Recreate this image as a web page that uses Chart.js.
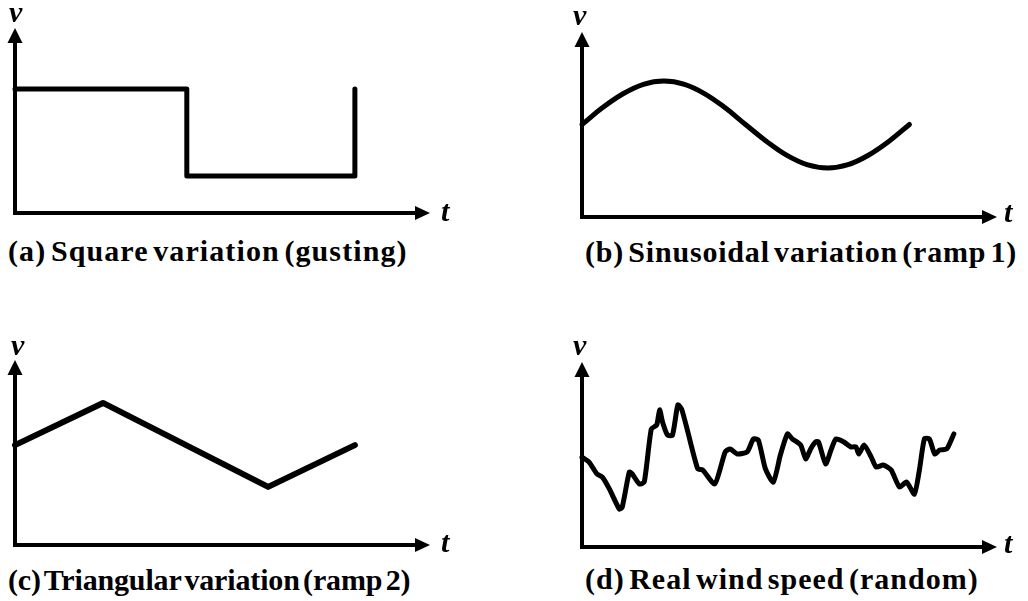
<!DOCTYPE html>
<html>
<head>
<meta charset="utf-8">
<script src="https://cdn.jsdelivr.net/npm/chart.js@4.4.1/dist/chart.umd.min.js"></script>
<style>
  body { margin: 0; background: #fff; width: 1028px; height: 601px; position: relative; overflow: hidden; }
  canvas.panel { position: absolute; }
  .lbl { position: absolute; font-family: "Liberation Serif", "Tinos", "Times New Roman", "DejaVu Serif", serif; font-weight: bold; color: #000; line-height: 30px; white-space: nowrap; }
  .axis-name { font-style: italic; font-size: 30px; }
  .caption { font-size: 30px; word-spacing: -4px; }
</style>
</head>
<body>
<canvas id="chartA" class="panel" width="450" height="210"></canvas>
<canvas id="chartB" class="panel" width="450" height="210"></canvas>
<canvas id="chartC" class="panel" width="450" height="210"></canvas>
<canvas id="chartD" class="panel" width="450" height="210"></canvas>

<div class="lbl axis-name" style="left:9px; top:-3px;">v</div>
<div class="lbl axis-name" style="left:441px; top:196px;">t</div>
<div class="lbl caption" style="left:8px; top:236px; letter-spacing:1.1px;">(a) Square variation (gusting)</div>

<div class="lbl axis-name" style="left:573px; top:0px;">v</div>
<div class="lbl axis-name" style="left:1004px; top:197px;">t</div>
<div class="lbl caption" style="left:585px; top:237px; letter-spacing:0.8px;">(b) Sinusoidal variation (ramp 1)</div>

<div class="lbl axis-name" style="left:11px; top:330px;">v</div>
<div class="lbl axis-name" style="left:441px; top:527px;">t</div>
<div class="lbl caption" style="left:8px; top:565px; letter-spacing:-0.15px;">(c) Triangular variation (ramp 2)</div>

<div class="lbl axis-name" style="left:573px; top:330px;">v</div>
<div class="lbl axis-name" style="left:1004px; top:528px;">t</div>
<div class="lbl caption" style="left:585px; top:564px; letter-spacing:1px;">(d) Real wind speed (random)</div>

<script>
// data, in axis units (0..100 along each arrow)
var squareT = [0, 41.4, 41.4, 81.9, 81.9];
var squareV = [67, 67, 20, 20, 67];

var sineT = [0, 4.9, 9.9, 14.8, 19.7, 24.7, 29.6, 34.5, 39.4, 44.4, 49.3, 54.2, 59.2, 64.1, 69.0, 74.0, 78.9];
var sineV = [50, 59, 66.6, 71.7, 73.5, 71.7, 66.6, 59, 50, 41, 33.4, 28.3, 26.5, 28.3, 33.4, 41, 50];

var triT = [0, 21.2, 61, 81.9];
var triV = [54, 76.8, 31.4, 54];

var windT = [0, 1.7, 3.6, 4.9, 6.6, 9.0, 9.7, 11.4, 12.1, 13.8, 15.0, 16.7, 18.0, 18.7, 19.4, 20.6,
  21.8, 23.1, 24.0, 25.5, 27.9, 29.1, 32.0, 34.5, 35.7, 37.4, 39.8, 41.3, 42.5, 44.2, 46.1, 47.8,
  49.5, 50.7, 52.7, 53.9, 55.1, 56.3, 57.0, 58.7, 60.0, 61.2, 63.1, 64.8, 66.0, 66.7, 68.0, 69.7,
  70.9, 72.6, 74.5, 76.5, 78.2, 80.1, 81.3, 82.5, 83.7, 85.0, 86.2, 87.9, 89.6];
var windV = [48.6, 45.9, 39.5, 37.8, 31.4, 20.5, 21.6, 40.5, 39.5, 34.1, 35.1, 63.8, 65.9, 74.1, 67.6, 60.5,
  60.5, 76.8, 74.6, 62.2, 42.2, 41.6, 34.1, 51.4, 53.0, 50.3, 51.4, 58.4, 57.8, 42.2, 35.1, 49.7,
  61.1, 58.4, 55.1, 47.6, 53.0, 56.8, 56.8, 44.9, 52.4, 58.4, 56.8, 54.1, 54.1, 50.3, 55.1, 48.6,
  43.2, 44.3, 41.6, 32.4, 35.1, 28.6, 41.6, 58.4, 58.4, 50.3, 52.4, 53.0, 61.1];

// where each panel's axis corner sits on the page
var panelPos = {
  chartA: { x: 15, tipY: 28 },
  chartB: { x: 582, tipY: 32 },
  chartC: { x: 15, tipY: 360 },
  chartD: { x: 582, tipY: 362 },
};

function toPoints(xs, ys) {
  return xs.map(function (x, i) { return { x: x, y: ys[i] }; });
}

// axes with arrow heads
const arrowAxes = {
  id: "arrowAxes",
  afterDraw: function (chart) {
    const ctx = chart.ctx;
    const a = chart.chartArea;
    const head = 15;
    ctx.save();
    ctx.strokeStyle = "#000";
    ctx.fillStyle = "#000";
    ctx.lineWidth = 4;
    ctx.lineCap = "butt";
    ctx.beginPath();
    ctx.moveTo(a.left, a.top + head - 1);
    ctx.lineTo(a.left, a.bottom + 2);
    ctx.moveTo(a.left - 2, a.bottom);
    ctx.lineTo(a.right - head + 1, a.bottom);
    ctx.stroke();
    // up arrow
    ctx.beginPath();
    ctx.moveTo(a.left, a.top);
    ctx.lineTo(a.left - 7.5, a.top + head);
    ctx.lineTo(a.left + 7.5, a.top + head);
    ctx.closePath();
    ctx.fill();
    // right arrow
    ctx.beginPath();
    ctx.moveTo(a.right, a.bottom);
    ctx.lineTo(a.right - head, a.bottom - 7);
    ctx.lineTo(a.right - head, a.bottom + 7);
    ctx.closePath();
    ctx.fill();
    ctx.restore();
  },
};

function makePanel(id, xs, ys, width, tension) {
  const el = document.getElementById(id);
  el.style.left = panelPos[id].x - 20 + "px";
  el.style.top = panelPos[id].tipY - 10 + "px";
  return new Chart(el, {
    type: "line",
    data: {
      datasets: [
        {
          data: toPoints(xs, ys),
          borderColor: "#000",
          borderWidth: width,
          borderJoinStyle: "round",
          borderCapStyle: "round",
          pointRadius: 0,
          tension: tension,
          fill: false,
          clip: false,
        },
      ],
    },
    options: {
      responsive: false,
      animation: false,
      events: [],
      layout: { padding: { left: 20, top: 10, right: 15, bottom: 15 } },
      plugins: { legend: { display: false }, tooltip: { enabled: false } },
      scales: {
        x: { type: "linear", min: 0, max: 100, display: false },
        y: { type: "linear", min: 0, max: 100, display: false },
      },
    },
    plugins: [arrowAxes],
  });
}

const squareChart = makePanel("chartA", squareT, squareV, 5, 0);
const sineChart = makePanel("chartB", sineT, sineV, 5, 0.4);
const triChart = makePanel("chartC", triT, triV, 6, 0);
const windChart = makePanel("chartD", windT, windV, 5, 0.2);
</script>
</body>
</html>
